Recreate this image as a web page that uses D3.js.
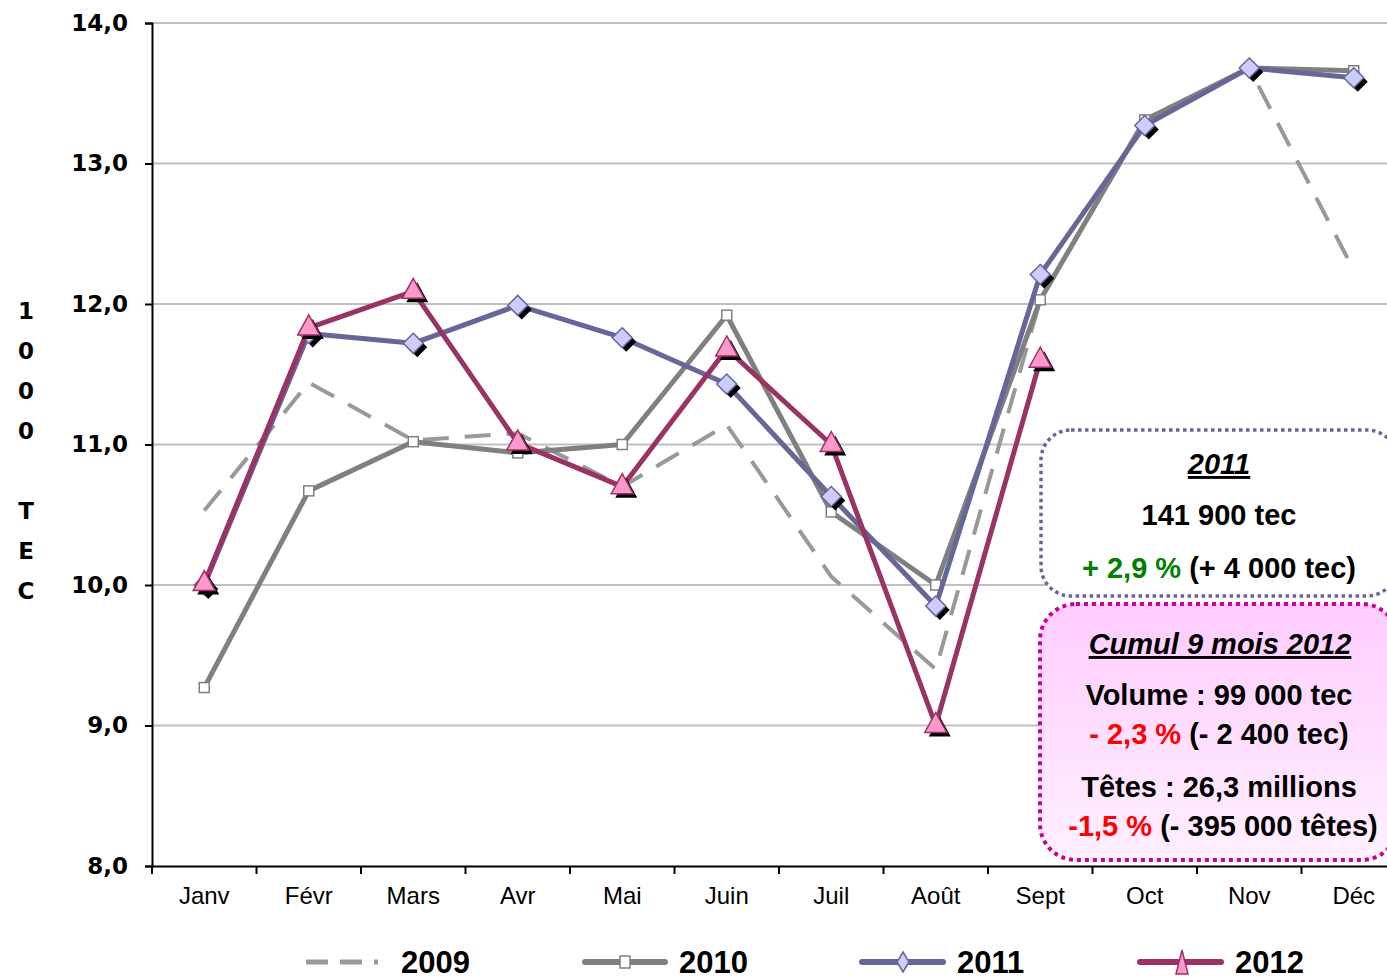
<!DOCTYPE html>
<html><head><meta charset="utf-8">
<script src="https://cdn.jsdelivr.net/npm/d3@7"></script>
<style>body{margin:0;background:#fff;} svg{display:block;}</style>
</head><body>
<svg id="c" width="1387" height="979"></svg>
<script>
const months = ["Janv","Févr","Mars","Avr","Mai","Juin","Juil","Août","Sept","Oct","Nov","Déc"];
const s2009 = [10.53,11.44,11.03,11.08,10.70,11.14,10.06,9.40,12.03,13.30,13.68,12.24];
const s2010 = [9.27,10.67,11.02,10.94,11.00,11.92,10.52,10.00,12.03,13.31,13.68,13.66];
const s2011 = [10.00,11.79,11.72,11.99,11.76,11.43,10.63,9.85,12.21,13.27,13.68,13.61];
const s2012 = [10.01,11.83,12.09,11.01,10.70,11.68,11.00,9.00,11.60];
const yTicks = [8,9,10,11,12,13,14];
const seriesNames = ["2009","2010","2011","2012"];

const svg = d3.select("#c");
const x = d3.scaleBand().domain(months).range([152, 1406]);
const y = d3.scaleLinear().domain([8,14]).range([866, 23]);
const fmt = v => d3.format(".1f")(v).replace(".", ",");
const cx = m => x(m) + x.bandwidth()/2;

// gridlines
svg.append("g").selectAll("line").data(yTicks.filter(t=>t>8)).join("line")
  .attr("x1",152).attr("x2",1387).attr("y1",d=>y(d)).attr("y2",d=>y(d))
  .attr("stroke","#c0c0c0").attr("stroke-width",2);

// y axis
const ya = svg.append("g").attr("transform","translate(152,0)")
  .call(d3.axisLeft(y).tickValues(yTicks).tickFormat(fmt).tickSize(7).tickPadding(17));
ya.select(".domain").attr("stroke","#000").attr("stroke-width",2);
ya.selectAll(".tick line").attr("stroke","#000").attr("stroke-width",2);
ya.selectAll("text").attr("font-family","DejaVu Sans, Verdana, sans-serif")
  .attr("font-weight","bold").attr("font-size",23).attr("fill","#000");

// x axis
const xa = svg.append("g").attr("transform","translate(0,866)")
  .call(d3.axisBottom(x).tickSize(0).tickPadding(21));
xa.select(".domain").attr("stroke","#000").attr("stroke-width",2);
xa.selectAll("text").attr("font-family","Liberation Sans, Arial, sans-serif")
  .attr("font-size",24).attr("fill","#000");
svg.append("g").selectAll("line").data(months.concat(["end"])).join("line")
  .attr("x1",(d,i)=>152+i*x.step()).attr("x2",(d,i)=>152+i*x.step())
  .attr("y1",866).attr("y2",874).attr("stroke","#000").attr("stroke-width",2);

// y title
const title = "1000 TEC".split("");
const ty = [310,350,390,430,null,510,550,590];
svg.append("g").selectAll("text").data(title.map((c,i)=>({c,yy:ty[i]})).filter(d=>d.c!==" ")).join("text")
  .attr("x",26).attr("y",d=>d.yy+9).attr("text-anchor","middle")
  .attr("font-family","DejaVu Sans, Verdana, sans-serif").attr("font-weight","bold")
  .attr("font-size",23).text(d=>d.c);

const line = d3.line().x((d,i)=>cx(months[i])).y(d=>y(d));

// 2009 dashed
svg.append("path").datum(s2009).attr("d",line).attr("fill","none")
  .attr("stroke","#999999").attr("stroke-width",4).attr("stroke-dasharray","26,16");
// 2010
svg.append("path").datum(s2010).attr("d",line).attr("fill","none")
  .attr("stroke","#808080").attr("stroke-width",5).attr("stroke-linejoin","round");
svg.append("g").selectAll("rect").data(s2010).join("rect")
  .attr("x",(d,i)=>cx(months[i])-5).attr("y",d=>y(d)-5).attr("width",10).attr("height",10)
  .attr("fill","#fff").attr("stroke","#808080").attr("stroke-width",1.5);
// 2011
svg.append("path").datum(s2011).attr("d",line).attr("fill","none")
  .attr("stroke","#666699").attr("stroke-width",5).attr("stroke-linejoin","round");
const diamond = "M0,-10L10,0L0,10L-10,0Z";
const g11 = svg.append("g");
g11.selectAll("path.sh").data(s2011).join("path").attr("class","sh")
  .attr("transform",(d,i)=>`translate(${cx(months[i])+4},${y(d)+4})`).attr("d",diamond).attr("fill","#000");
g11.selectAll("path.mk").data(s2011).join("path").attr("class","mk")
  .attr("transform",(d,i)=>`translate(${cx(months[i])},${y(d)})`).attr("d",diamond)
  .attr("fill","#CCCCFF").attr("stroke","#666699").attr("stroke-width",1.5);
// 2012
svg.append("path").datum(s2012).attr("d",line).attr("fill","none")
  .attr("stroke","#993366").attr("stroke-width",5).attr("stroke-linejoin","round");
const tri = "M0,-13L11,7L-11,7Z";
const g12 = svg.append("g");
g12.selectAll("path.sh").data(s2012).join("path").attr("class","sh")
  .attr("transform",(d,i)=>`translate(${cx(months[i])+4},${y(d)+4})`).attr("d",tri).attr("fill","#000");
g12.selectAll("path.mk").data(s2012).join("path").attr("class","mk")
  .attr("transform",(d,i)=>`translate(${cx(months[i])},${y(d)})`).attr("d",tri)
  .attr("fill","#FF99CC").attr("stroke","#993366").attr("stroke-width",1.5);

// Legend
const lg = svg.append("g");
const lf = "Liberation Sans Narrow, Arial Narrow, Liberation Sans, sans-serif";
const legendItems = [
  {name:seriesNames[0], tx:401},
  {name:seriesNames[1], tx:679},
  {name:seriesNames[2], tx:957},
  {name:seriesNames[3], tx:1235}
];
const ly = 962;
lg.append("line").attr("x1",306).attr("x2",378).attr("y1",ly).attr("y2",ly)
  .attr("stroke","#999999").attr("stroke-width",5).attr("stroke-dasharray","22,12");
lg.append("line").attr("x1",585).attr("x2",665).attr("y1",ly).attr("y2",ly)
  .attr("stroke","#808080").attr("stroke-width",6).attr("stroke-linecap","round");
lg.append("rect").attr("x",620).attr("y",ly-6).attr("width",10).attr("height",12)
  .attr("fill","#fff").attr("stroke","#808080").attr("stroke-width",1.5);
lg.append("line").attr("x1",862).attr("x2",943).attr("y1",ly).attr("y2",ly)
  .attr("stroke","#666699").attr("stroke-width",6).attr("stroke-linecap","round");
lg.append("path").attr("transform",`translate(903,${ly})`).attr("d","M0,-10L6,0L0,10L-6,0Z")
  .attr("fill","#CCCCFF").attr("stroke","#666699").attr("stroke-width",1.5);
lg.append("line").attr("x1",1140).attr("x2",1221).attr("y1",ly).attr("y2",ly)
  .attr("stroke","#993366").attr("stroke-width",6).attr("stroke-linecap","round");
lg.append("path").attr("transform",`translate(1182,${ly})`).attr("d","M0,-12L6,12L-6,12Z")
  .attr("fill","#FF99CC").attr("stroke","#993366").attr("stroke-width",1.5);
lg.selectAll("text").data(legendItems).join("text")
  .attr("x",d=>d.tx).attr("y",ly+11).attr("font-family",lf).attr("font-weight","bold")
  .attr("font-size",31).attr("fill","#000").text(d=>d.name);

// Annotation boxes
const defs = svg.append("defs");
const grad = defs.append("linearGradient").attr("id","pk").attr("x1",0).attr("y1",0).attr("x2",0).attr("y2",1);
grad.append("stop").attr("offset","0").attr("stop-color","#FFCCFF");
grad.append("stop").attr("offset","1").attr("stop-color","#FFF0FF");

const bf = "Liberation Sans, Arial, sans-serif";
svg.append("rect").attr("x",1041).attr("y",430).attr("width",356).attr("height",166).attr("rx",30)
  .attr("fill","#fff").attr("stroke","#666699").attr("stroke-width",3.5).attr("stroke-dasharray","3.5,3.5");
const b1 = svg.append("g").attr("font-family",bf).attr("font-weight","bold").attr("font-size",29).attr("text-anchor","middle");
b1.append("text").attr("x",1219).attr("y",474).attr("font-style","italic").attr("text-decoration","underline").text("2011");
b1.append("text").attr("x",1219).attr("y",525).text("141 900 tec");
const t1 = b1.append("text").attr("x",1219).attr("y",578);
t1.append("tspan").attr("fill","#008000").text("+ 2,9 %");
t1.append("tspan").text(" (+ 4 000 tec)");

svg.append("rect").attr("x",1040).attr("y",604).attr("width",358).attr("height",256).attr("rx",36)
  .attr("fill","url(#pk)").attr("stroke","#CC0099").attr("stroke-width",4).attr("stroke-dasharray","4,4");
const b2 = svg.append("g").attr("font-family",bf).attr("font-weight","bold").attr("font-size",29).attr("text-anchor","middle");
b2.append("text").attr("x",1220).attr("y",654).attr("font-style","italic").attr("text-decoration","underline").text("Cumul 9 mois 2012");
b2.append("text").attr("x",1219).attr("y",705).text("Volume : 99 000 tec");
const t2 = b2.append("text").attr("x",1219).attr("y",744);
t2.append("tspan").attr("fill","#FF0000").text("- 2,3 %");
t2.append("tspan").text(" (- 2 400 tec)");
b2.append("text").attr("x",1219).attr("y",797).text("Têtes : 26,3 millions");
const t3 = b2.append("text").attr("x",1223).attr("y",836);
t3.append("tspan").attr("fill","#FF0000").text("-1,5 %");
t3.append("tspan").text(" (- 395 000 têtes)");
</script>
</body></html>
